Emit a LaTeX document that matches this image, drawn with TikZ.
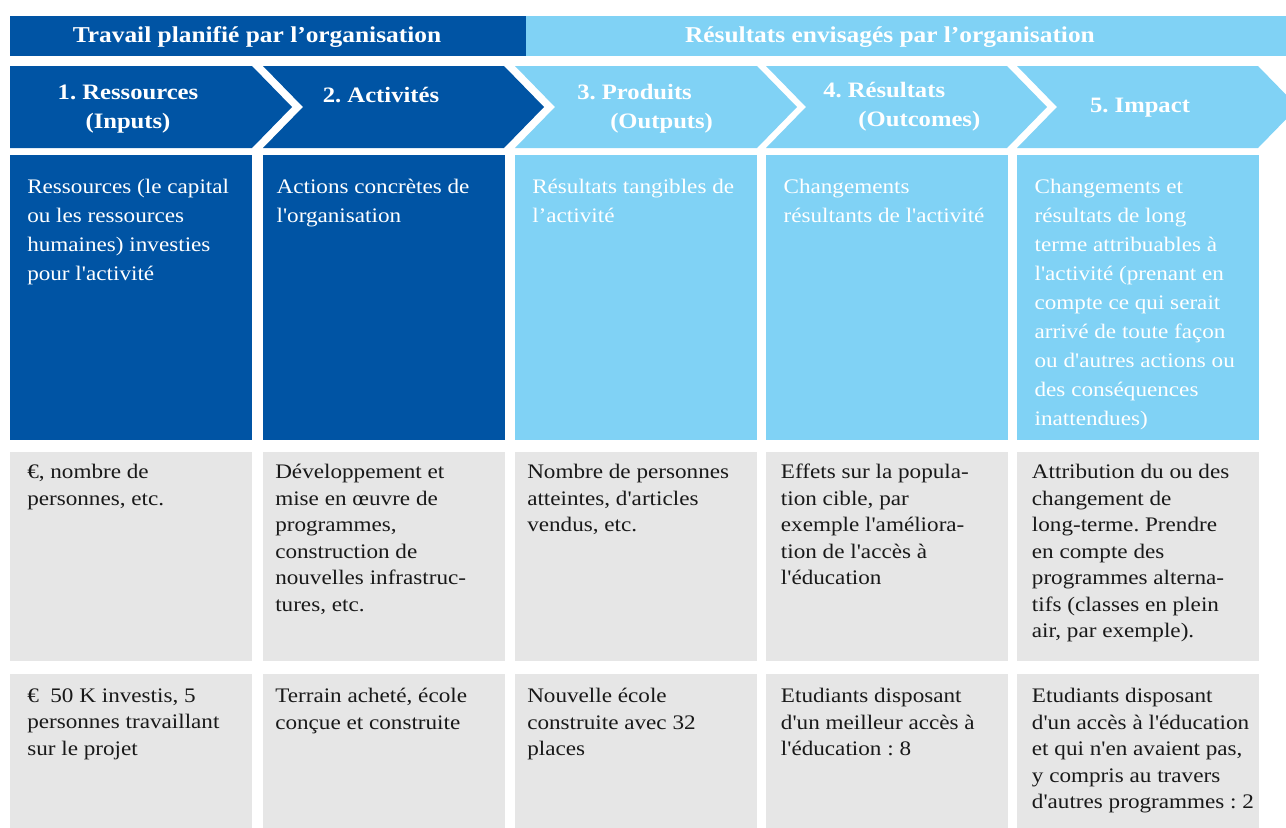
\documentclass[tikz,border=0pt]{standalone}
\usepackage{fontspec}
\newfontfamily\cellfont{Liberation Serif}[FakeStretch=1.12]
\frenchspacing

\definecolor{planblue}{RGB}{0,84,164}
\definecolor{resultblue}{RGB}{128,210,245}
\definecolor{cellgray}{RGB}{230,230,230}
\definecolor{celltext}{RGB}{25,25,25}

\begin{document}
\begin{tikzpicture}[x=0.75pt,y=-0.75pt,
  bartext/.style={inner sep=0pt,text=white,font=\cellfont\bfseries\fontsize{17}{20}\selectfont},
  stagetext/.style={inner sep=0pt,text=white,font=\cellfont\bfseries\fontsize{16.5}{21.5}\selectfont},
  cell/.style={anchor=north west,inner sep=0pt,minimum width=181.5pt,minimum height=#1},
  bluetxt/.style={anchor=north west,inner sep=0pt,align=left,text=white,font=\cellfont\fontsize{15.5}{21.75}\selectfont},
  graytxt/.style={anchor=north west,inner sep=0pt,align=left,text=celltext,font=\cellfont\fontsize{15.5}{19.9}\selectfont}]
  \clip (0,0) rectangle (1286,828);

  %top bars
  \fill[planblue] (10,16) rectangle (526,56);
  \fill[resultblue] (526,16) rectangle (1290,56);
  \node[bartext] (plan) at (257,37) {Travail planifié par l’organisation};
  \node[bartext] (result) at (890,37) {Résultats envisagés par l’organisation};

  %chevrons
  \fill[planblue] (10,66) -- (252,66) -- (292,107) -- (252,148) -- (10,148) -- cycle;
  \fill[planblue] (263,66) -- (504,66) -- (544,107) -- (504,148) -- (263,148) -- (303,107) -- cycle;
  \fill[resultblue] (515,66) -- (757,66) -- (797,107) -- (757,148) -- (515,148) -- (555,107) -- cycle;
  \fill[resultblue] (766,66) -- (1007,66) -- (1047,107) -- (1007,148) -- (766,148) -- (806,107) -- cycle;
  \fill[resultblue] (1017,66) -- (1258,66) -- (1298,107) -- (1258,148) -- (1017,148) -- (1057,107) -- cycle;
  \node[stagetext,align=center] (s1) at (128,109) {1. Ressources\\(Inputs)};
  \node[stagetext] (s2) at (381,95) {2. Activités};
  \node[stagetext,align=left,anchor=west] (s3) at (577,109) {3. Produits\\\hspace*{1.5em}(Outputs)};
  \node[stagetext,align=left,anchor=west] (s4) at (823,107) {4. Résultats\\\hspace*{1.6em}(Outcomes)};
  \node[stagetext] (s5) at (1140,108) {5. Impact};

  %definitions
  \node[cell=213.75pt,fill=planblue] (d1) at (10,155) {};
  \node[cell=213.75pt,fill=planblue] (d2) at (263,155) {};
  \node[cell=213.75pt,fill=resultblue] (d3) at (515,155) {};
  \node[cell=213.75pt,fill=resultblue] (d4) at (766,155) {};
  \node[cell=213.75pt,fill=resultblue] (d5) at (1017,155) {};
  \node[bluetxt] (d1t) at ([xshift=12.75pt,yshift=-18pt]d1.north west) {Ressources (le capital\\ou les ressources\\humaines) investies\\pour l'activité};
  \node[bluetxt] (d2t) at ([xshift=10pt,yshift=-18pt]d2.north west) {Actions concrètes de\\l'organisation};
  \node[bluetxt] (d3t) at ([xshift=12.75pt,yshift=-18pt]d3.north west) {Résultats tangibles de\\l’activité};
  \node[bluetxt] (d4t) at ([xshift=13pt,yshift=-18pt]d4.north west) {Changements\\résultants de l'activité};
  \node[bluetxt] (d5t) at ([xshift=13pt,yshift=-18pt]d5.north west) {Changements et\\résultats de long\\terme attribuables à\\l'activité (prenant en\\compte ce qui serait\\arrivé de toute façon\\ou d'autres actions ou\\des conséquences\\inattendues)};

  %indicators
  \node[cell=156.75pt,fill=cellgray] (m1) at (10,452) {};
  \node[cell=156.75pt,fill=cellgray] (m2) at (263,452) {};
  \node[cell=156.75pt,fill=cellgray] (m3) at (515,452) {};
  \node[cell=156.75pt,fill=cellgray] (m4) at (766,452) {};
  \node[cell=156.75pt,fill=cellgray] (m5) at (1017,452) {};
  \node[graytxt] (m1t) at ([xshift=12.75pt,yshift=-9pt]m1.north west) {€, nombre de\\personnes, etc.};
  \node[graytxt] (m2t) at ([xshift=9pt,yshift=-9pt]m2.north west) {Développement et\\mise en œuvre de\\programmes,\\construction de\\nouvelles infrastruc-\\tures, etc.};
  \node[graytxt] (m3t) at ([xshift=9pt,yshift=-9pt]m3.north west) {Nombre de personnes\\atteintes, d'articles\\vendus, etc.};
  \node[graytxt] (m4t) at ([xshift=11pt,yshift=-9pt]m4.north west) {Effets sur la popula-\\tion cible, par\\exemple l'améliora-\\tion de l'accès à\\l'éducation};
  \node[graytxt] (m5t) at ([xshift=11pt,yshift=-9pt]m5.north west) {Attribution du ou des\\changement de\\long-terme. Prendre\\en compte des\\programmes alterna-\\tifs (classes en plein\\air, par exemple).};

  %example
  \node[cell=118.5pt,fill=cellgray] (e1) at (10,674) {};
  \node[cell=118.5pt,fill=cellgray] (e2) at (263,674) {};
  \node[cell=118.5pt,fill=cellgray] (e3) at (515,674) {};
  \node[cell=118.5pt,fill=cellgray] (e4) at (766,674) {};
  \node[cell=118.5pt,fill=cellgray] (e5) at (1017,674) {};
  \node[graytxt] (e1t) at ([xshift=12.75pt,yshift=-10.5pt]e1.north west) {€~~50 K investis, 5\\personnes travaillant\\sur le projet};
  \node[graytxt] (e2t) at ([xshift=9pt,yshift=-10.5pt]e2.north west) {Terrain acheté, école\\conçue et construite};
  \node[graytxt] (e3t) at ([xshift=9pt,yshift=-10.5pt]e3.north west) {Nouvelle école\\construite avec 32\\places};
  \node[graytxt] (e4t) at ([xshift=11pt,yshift=-10.5pt]e4.north west) {Etudiants disposant\\d'un meilleur accès à\\l'éducation : 8};
  \node[graytxt] (e5t) at ([xshift=11pt,yshift=-10.5pt]e5.north west) {Etudiants disposant\\d'un accès à l'éducation\\et qui n'en avaient pas,\\y compris au travers\\d'autres programmes : 2};
\end{tikzpicture}
\end{document}
